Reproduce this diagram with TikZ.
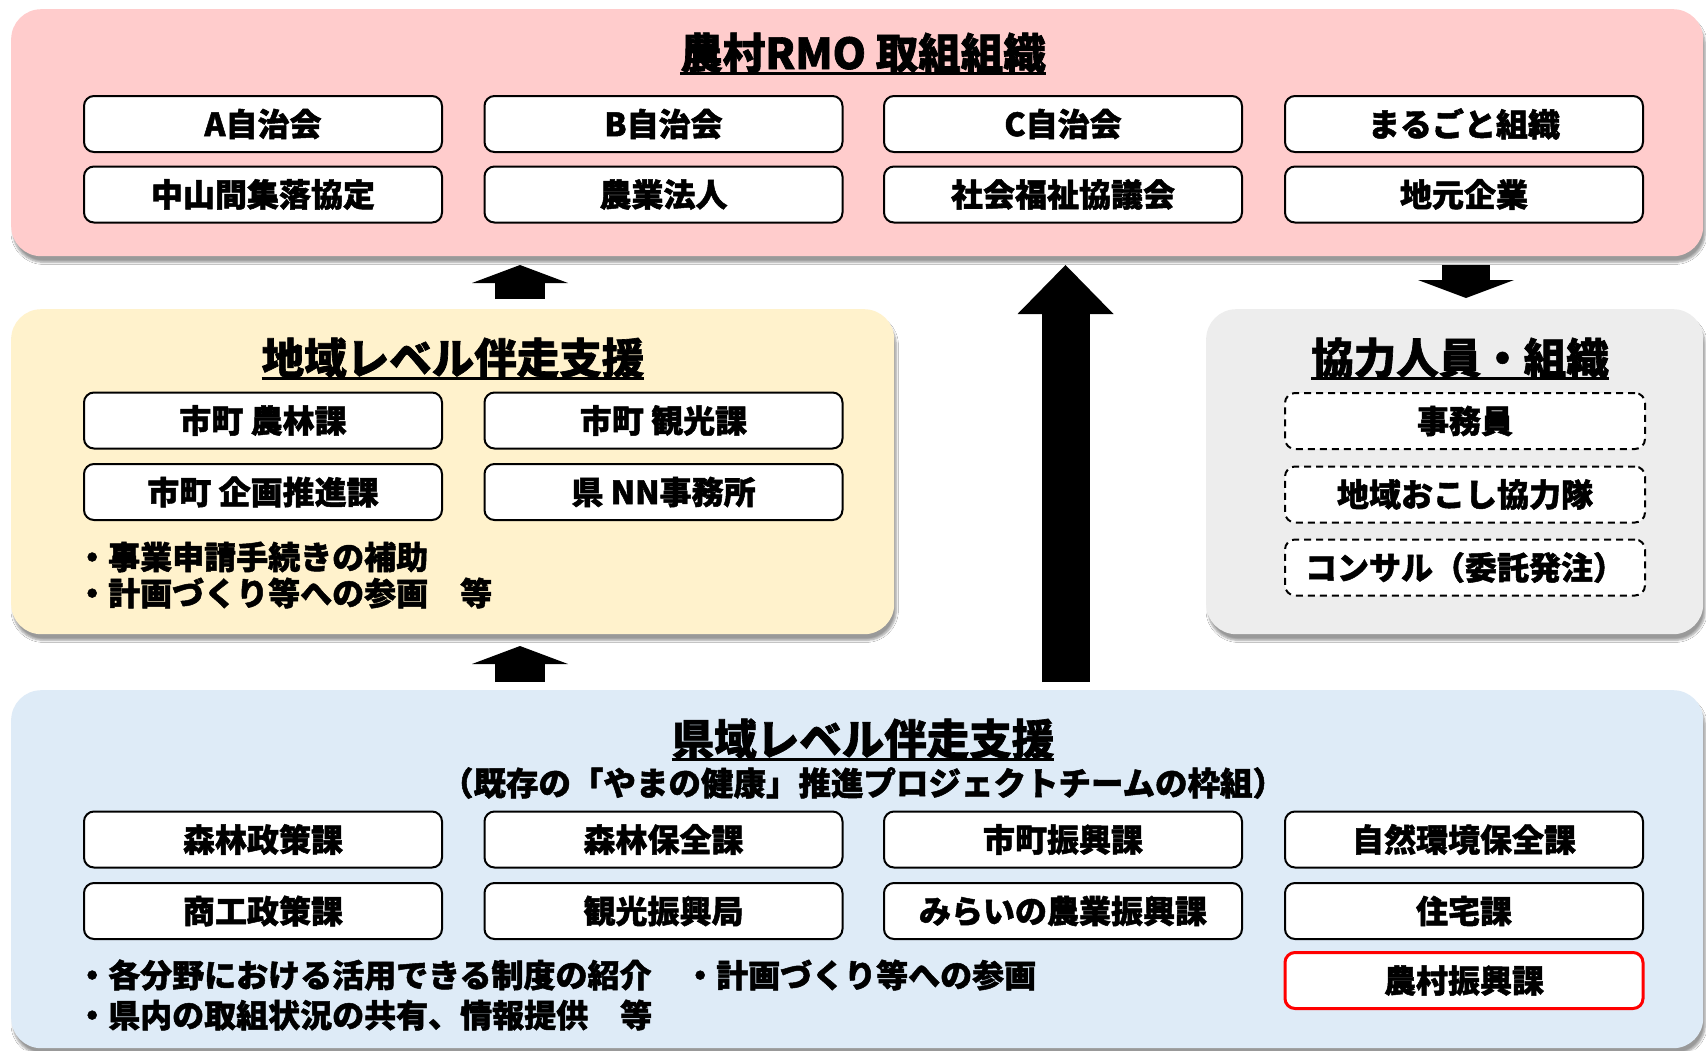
\documentclass[tikz,border=0pt]{standalone}
\usepackage{fontspec}
\setmainfont{Noto Sans CJK JP}[BoldFeatures={FakeBold=1.5}]
\usetikzlibrary{arrows.meta,shadows.blur}
\definecolor{pinkbg}{HTML}{FFCCCC}
\definecolor{yellowbg}{HTML}{FFF2CC}
\definecolor{graybg}{HTML}{EDEDED}
\definecolor{bluebg}{HTML}{DEEBF7}
\newcommand\boxfont{\fontsize{32pt}{38pt}\selectfont\bfseries}
\newcommand\titlefont{\fontsize{42.5pt}{50pt}\selectfont\bfseries}
\begin{document}
\begin{tikzpicture}[x=1pt,y=-1pt,
  panel/.style={rounded corners=30pt, inner sep=0pt, anchor=north west,
    blur shadow={shadow xshift=2pt, shadow yshift=-6pt, shadow blur steps=6, shadow opacity=40}},
  box/.style={draw=black, line width=2pt, fill=white, rounded corners=10pt,
    minimum width=358pt, minimum height=56pt, inner sep=0pt, font=\boxfont},
  dbox/.style={box, dash pattern=on 7pt off 5pt},
  rbox/.style={box, draw=red, line width=3pt},
  ttl/.style={inner sep=0pt, anchor=base, font=\titlefont},
  uline/.style={line width=3pt},
  bullet/.style={inner sep=0pt, anchor=west, font=\boxfont},
  fat/.style={line width=50pt, -{Triangle[width=96pt,length=18pt,line width=0pt]}},
  bigfat/.style={line width=48pt, -{Triangle[width=96pt,length=49pt,line width=0pt]}}
]
\useasboundingbox (0,0) rectangle (1706,1050);
\fill[white] (0,0) rectangle (1706,1050);

% panels
\node[panel, fill=pinkbg, minimum width=1692pt, minimum height=247pt] (rmo) at (11,9) {};
\node[panel, fill=yellowbg, minimum width=883pt, minimum height=325pt] (yel) at (11,309) {};
\node[panel, fill=graybg, minimum width=497pt, minimum height=325pt] (gry) at (1206,309) {};
\node[panel, fill=bluebg, minimum width=1692pt, minimum height=358pt] (blu) at (11,690) {};

% titles
\node[ttl] (t1) at (863,69) {農村RMO 取組組織};
\draw[uline] ([yshift=-4pt]t1.base west) -- ([yshift=-4pt]t1.base east);
\node[ttl] (t2) at (453,374) {地域レベル伴走支援};
\draw[uline] ([yshift=-4pt]t2.base west) -- ([yshift=-4pt]t2.base east);
\node[ttl] (t3) at (1460,374) {協力人員・組織};
\draw[uline] ([yshift=-4pt]t3.base west) -- ([yshift=-4pt]t3.base east);
\node[ttl] (t4) at (863,755) {県域レベル伴走支援};
\draw[uline] ([yshift=-4pt]t4.base west) -- ([yshift=-4pt]t4.base east);
\node[inner sep=0pt, font=\fontsize{32.5pt}{38pt}\selectfont\bfseries] (sub) at (863,783) {（既存の「やまの健康」推進プロジェクトチームの枠組）};

% RMO boxes
\node[box] (p11) at (263,124) {A自治会};
\node[box] (p12) at (663.5,124) {B自治会};
\node[box] (p13) at (1063,124) {C自治会};
\node[box] (p14) at (1464,124) {まるごと組織};
\node[box] (p21) at (263,194.5) {中山間集落協定};
\node[box] (p22) at (663.5,194.5) {農業法人};
\node[box] (p23) at (1063,194.5) {社会福祉協議会};
\node[box] (p24) at (1464,194.5) {地元企業};

% regional boxes
\node[box] (y11) at (263,420.5) {市町 農林課};
\node[box] (y12) at (663.5,420.5) {市町 観光課};
\node[box] (y21) at (263,492) {市町 企画推進課};
\node[box] (y22) at (663.5,492) {県 NN事務所};
\node[bullet] (yb1) at (76,557) {・事業申請手続きの補助};
\node[bullet] (yb2) at (76,593) {・計画づくり等への参画　等};

% cooperators
\node[dbox, minimum width=360pt] (g1) at (1465,421) {事務員};
\node[dbox, minimum width=360pt] (g2) at (1465,494.5) {地域おこし協力隊};
\node[dbox, minimum width=360pt] (g3) at (1465,567.5) {コンサル（委託発注）};

% prefecture boxes
\node[box] (b11) at (263,839.5) {森林政策課};
\node[box] (b12) at (663.5,839.5) {森林保全課};
\node[box] (b13) at (1063,839.5) {市町振興課};
\node[box] (b14) at (1464,839.5) {自然環境保全課};
\node[box] (b21) at (263,911) {商工政策課};
\node[box] (b22) at (663.5,911) {観光振興局};
\node[box] (b23) at (1063,911) {みらいの農業振興課};
\node[box] (b24) at (1464,911) {住宅課};
\node[rbox] (b34) at (1464,980.5) {農村振興課};
\node[bullet] (bb1) at (76,975) {・各分野における活用できる制度の紹介};
\node[bullet] (bb3) at (684,975) {・計画づくり等への参画};
\node[bullet] (bb2) at (76,1015) {・県内の取組状況の共有、情報提供　等};

% arrows
\coordinate (a1s) at (520,299); \coordinate (a1e) at (520,265);
\coordinate (a2s) at (1065.5,682); \coordinate (a2e) at (1065.5,265);
\coordinate (a3s) at (1466,265); \coordinate (a3e) at (1466,298);
\coordinate (a4s) at (520,682); \coordinate (a4e) at (520,646);
\draw[fat] (a1s) -- (a1e);
\draw[bigfat] (a2s) -- (a2e);
\draw[fat, line width=48pt] (a3s) -- (a3e);
\draw[fat] (a4s) -- (a4e);
\end{tikzpicture}
\end{document}
